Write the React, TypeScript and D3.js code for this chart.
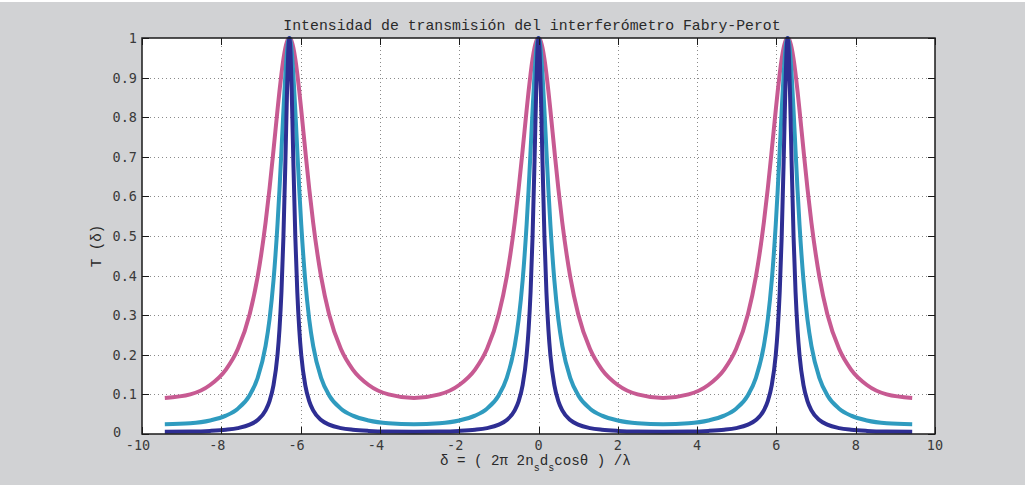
import React from "react";
import * as d3 from "d3";

const W = 1025;
const H = 485;

const titleText = "Intensidad de transmisión del interferómetro Fabry-Perot";
const xTicks = [-10, -8, -6, -4, -2, 0, 2, 4, 6, 8, 10];
const yTicks = [0, 0.1, 0.2, 0.3, 0.4, 0.5, 0.6, 0.7, 0.8, 0.9, 1];
const yTickLabels = ["0", "0.1", "0.2", "0.3", "0.4", "0.5", "0.6", "0.7", "0.8", "0.9", "1"];

// delta values (shared by the three curves)
const deltaValues = [
  -9.4248, -8.7832, -8.2832, -7.8832, -7.5832, -7.2832, -7.0832, -6.8832, -6.7832, -6.6832, -6.5832, -6.5332, -6.4832, -6.4332, -6.3832, -6.3432, -6.3132, -6.2832,
  -6.2532, -6.2232, -6.1832, -6.1332, -6.0832, -6.0332, -5.9832, -5.8832, -5.7832, -5.6832, -5.4832, -5.2832, -4.9832, -4.6832, -4.2832, -3.7832, -3.1416,
  -2.5, -2.0, -1.6, -1.3, -1.0, -0.8, -0.6, -0.5, -0.4, -0.3, -0.25, -0.2, -0.15, -0.1, -0.06, -0.03, 0,
  0.03, 0.06, 0.1, 0.15, 0.2, 0.25, 0.3, 0.4, 0.5, 0.6, 0.8, 1.0, 1.3, 1.6, 2.0, 2.5, 3.1416,
  3.7832, 4.2832, 4.6832, 4.9832, 5.2832, 5.4832, 5.6832, 5.7832, 5.8832, 5.9832, 6.0332, 6.0832, 6.1332, 6.1832, 6.2232, 6.2532, 6.2832,
  6.3132, 6.3432, 6.3832, 6.4332, 6.4832, 6.5332, 6.5832, 6.6832, 6.7832, 6.8832, 7.0832, 7.2832, 7.5832, 7.8832, 8.2832, 8.7832, 9.4248,
];

// low finesse (pink)
const tPink = [
  0.0909, 0.0999, 0.1238, 0.1627, 0.2145, 0.3032, 0.3974, 0.5338, 0.6203, 0.717, 0.8175, 0.8655, 0.9094, 0.9468, 0.9756, 0.9911, 0.9978, 1,
  0.9978, 0.9911, 0.9756, 0.9468, 0.9094, 0.8655, 0.8175, 0.717, 0.6203, 0.5338, 0.3974, 0.3032, 0.2145, 0.1627, 0.1238, 0.0999, 0.0909,
  0.0999, 0.1238, 0.1627, 0.2145, 0.3032, 0.3974, 0.5338, 0.6203, 0.717, 0.8175, 0.8655, 0.9094, 0.9468, 0.9756, 0.9911, 0.9978, 1,
  0.9978, 0.9911, 0.9756, 0.9468, 0.9094, 0.8655, 0.8175, 0.717, 0.6203, 0.5338, 0.3974, 0.3032, 0.2145, 0.1627, 0.1238, 0.0999, 0.0909,
  0.0999, 0.1238, 0.1627, 0.2145, 0.3032, 0.3974, 0.5338, 0.6203, 0.717, 0.8175, 0.8655, 0.9094, 0.9468, 0.9756, 0.9911, 0.9978, 1,
  0.9978, 0.9911, 0.9756, 0.9468, 0.9094, 0.8655, 0.8175, 0.717, 0.6203, 0.5338, 0.3974, 0.3032, 0.2145, 0.1627, 0.1238, 0.0999, 0.0909,
];

// medium finesse (cyan)
const tCyan = [
  0.0244, 0.027, 0.0341, 0.0463, 0.0639, 0.0981, 0.1415, 0.2226, 0.29, 0.3878, 0.5282, 0.6166, 0.715, 0.8166, 0.9092, 0.9653, 0.9911, 1,
  0.9911, 0.9653, 0.9092, 0.8166, 0.715, 0.6166, 0.5282, 0.3878, 0.29, 0.2226, 0.1415, 0.0981, 0.0639, 0.0463, 0.0341, 0.027, 0.0244,
  0.027, 0.0341, 0.0463, 0.0639, 0.0981, 0.1415, 0.2226, 0.29, 0.3878, 0.5282, 0.6166, 0.715, 0.8166, 0.9092, 0.9653, 0.9911, 1,
  0.9911, 0.9653, 0.9092, 0.8166, 0.715, 0.6166, 0.5282, 0.3878, 0.29, 0.2226, 0.1415, 0.0981, 0.0639, 0.0463, 0.0341, 0.027, 0.0244,
  0.027, 0.0341, 0.0463, 0.0639, 0.0981, 0.1415, 0.2226, 0.29, 0.3878, 0.5282, 0.6166, 0.715, 0.8166, 0.9092, 0.9653, 0.9911, 1,
  0.9911, 0.9653, 0.9092, 0.8166, 0.715, 0.6166, 0.5282, 0.3878, 0.29, 0.2226, 0.1415, 0.0981, 0.0639, 0.0463, 0.0341, 0.027, 0.0244,
];

// high finesse (dark blue)
const tBlue = [
  0.0055, 0.0061, 0.0078, 0.0107, 0.0149, 0.0236, 0.0353, 0.0598, 0.0832, 0.1234, 0.1992, 0.2633, 0.3579, 0.4974, 0.6898, 0.8606, 0.9611, 1,
  0.9611, 0.8606, 0.6898, 0.4974, 0.3579, 0.2633, 0.1992, 0.1234, 0.0832, 0.0598, 0.0353, 0.0236, 0.0149, 0.0107, 0.0078, 0.0061, 0.0055,
  0.0061, 0.0078, 0.0107, 0.0149, 0.0236, 0.0353, 0.0598, 0.0832, 0.1234, 0.1992, 0.2633, 0.3579, 0.4974, 0.6898, 0.8606, 0.9611, 1,
  0.9611, 0.8606, 0.6898, 0.4974, 0.3579, 0.2633, 0.1992, 0.1234, 0.0832, 0.0598, 0.0353, 0.0236, 0.0149, 0.0107, 0.0078, 0.0061, 0.0055,
  0.0061, 0.0078, 0.0107, 0.0149, 0.0236, 0.0353, 0.0598, 0.0832, 0.1234, 0.1992, 0.2633, 0.3579, 0.4974, 0.6898, 0.8606, 0.9611, 1,
  0.9611, 0.8606, 0.6898, 0.4974, 0.3579, 0.2633, 0.1992, 0.1234, 0.0832, 0.0598, 0.0353, 0.0236, 0.0149, 0.0107, 0.0078, 0.0061, 0.0055,
];

const seriesList = [
  { name: "pink", values: tPink, color: "#c75a92" },
  { name: "cyan", values: tCyan, color: "#2f9bbf" },
  { name: "blue", values: tBlue, color: "#2e2e93" },
];

const margin = { left: 142, right: 1025 - 935, top: 38, bottom: 485 - 434 };

export default function App() {
  const x = d3.scaleLinear().domain([-10, 10]).range([margin.left, W - margin.right]);
  const y = d3.scaleLinear().domain([0, 1]).range([H - margin.bottom, margin.top]);
  const line = d3
    .line<number>()
    .x((_, i) => x(deltaValues[i]))
    .y((d) => y(d))
    .curve(d3.curveMonotoneX);

  const x0 = x(-10), x1 = x(10), y0 = y(0), y1 = y(1);
  const tickLen = 7;
  const tickFont = "'DejaVu Sans Mono', monospace";
  const textFont = "'Liberation Mono', 'Courier New', monospace";
  const axisColor = "#1a1a1a";
  const labelColor = "#3a3a3a";

  return (
    <svg
      width={W}
      height={H}
      style={{ position: "absolute", left: 0, top: 0, display: "block" }}
    >
      <rect x={0} y={0} width={W} height={H} fill="#ffffff" />
      <rect x={0} y={2} width={W} height={H - 2} fill="#d1d2d4" />
      <rect x={x0} y={y1} width={x1 - x0} height={y0 - y1} fill="#ffffff" />

      {/* grid */}
      <g stroke="#8a8a8a" strokeWidth={1} strokeDasharray="1,3">
        {xTicks.slice(1, -1).map((t) => (
          <line key={"gx" + t} x1={Math.round(x(t)) + 0.5} x2={Math.round(x(t)) + 0.5} y1={y1} y2={y0} />
        ))}
        {yTicks.slice(1, -1).map((t) => (
          <line key={"gy" + t} x1={x0} x2={x1} y1={Math.round(y(t)) + 0.5} y2={Math.round(y(t)) + 0.5} />
        ))}
      </g>

      {/* curves */}
      {seriesList.map((s) => (
        <path
          key={s.name}
          d={line(s.values) || ""}
          fill="none"
          stroke={s.color}
          strokeWidth={4}
          strokeLinejoin="round"
        />
      ))}

      {/* axes box & ticks */}
      <g stroke={axisColor} strokeWidth={1}>
        <rect x={x0} y={y1} width={x1 - x0} height={y0 - y1} fill="none" strokeWidth={1.5} />
        {xTicks.map((t) => {
          const px = Math.round(x(t)) + 0.5;
          return (
            <g key={"tx" + t}>
              <line x1={px} x2={px} y1={y0} y2={y0 - tickLen} />
              <line x1={px} x2={px} y1={y1} y2={y1 + tickLen} />
            </g>
          );
        })}
        {yTicks.map((t) => {
          const py = Math.round(y(t)) + 0.5;
          return (
            <g key={"ty" + t}>
              <line x1={x0} x2={x0 + tickLen} y1={py} y2={py} />
              <line x1={x1} x2={x1 - tickLen} y1={py} y2={py} />
            </g>
          );
        })}
      </g>

      {/* tick labels */}
      <g fontFamily={tickFont} fontSize={13.5} fill={labelColor}>
        {xTicks.map((t) => (
          <text
            key={"lx" + t}
            x={x(t)}
            dx={t < 0 ? -4 : 0}
            y={y0 + 16}
            textAnchor="middle"
          >
            {t < 0 ? "-" + Math.abs(t) : String(t)}
          </text>
        ))}
        {yTicks.map((t, i) => (
          <text
            key={"ly" + t}
            x={t === 0 ? x0 - 29 : x0 - 5}
            y={y(t) + (t === 0 ? 3 : 5)}
            textAnchor={t === 0 ? "start" : "end"}
          >
            {yTickLabels[i]}
          </text>
        ))}
      </g>

      {/* title */}
      <text x={532} y={30} textAnchor="middle" fontFamily={textFont} fontSize={14.8} fill="#2a2a2a">
        {titleText}
      </text>

      {/* x label */}
      <text x={440} y={465} fontFamily={textFont} fontSize={14.2} fill="#2a2a2a" xmlSpace="preserve">
        δ = ( 2π 2n
        <tspan fontSize={10} dy={6}>s</tspan>
        <tspan dy={-6}>d</tspan>
        <tspan fontSize={10} dy={6}>s</tspan>
        <tspan dy={-6}>cosθ ) /λ</tspan>
      </text>

      {/* y label */}
      <text
        transform={`translate(101, 246) rotate(-90)`}
        textAnchor="middle"
        fontFamily={textFont}
        fontSize={14.2}
        fill="#2a2a2a"
        xmlSpace="preserve"
      >
        T (δ)
      </text>
    </svg>
  );
}
